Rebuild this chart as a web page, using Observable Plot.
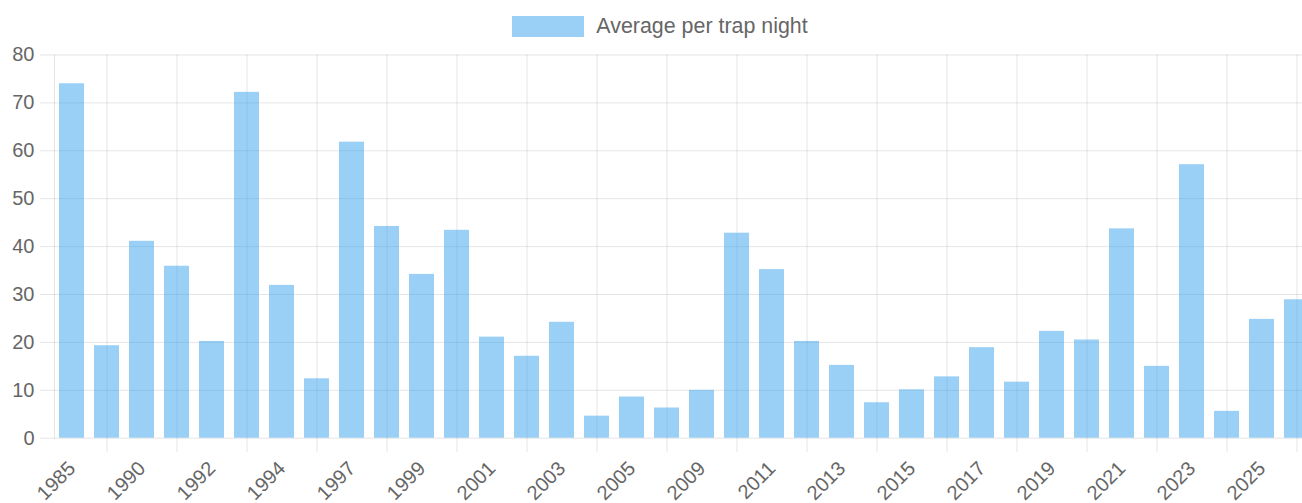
<!DOCTYPE html>
<html>
<head>
<meta charset="utf-8">
<script src="https://cdn.jsdelivr.net/npm/d3@7"></script>
<script src="https://cdn.jsdelivr.net/npm/@observablehq/plot@0.6"></script>
<style>
  html, body { margin: 0; padding: 0; background: #fff; overflow: hidden; width: 1302px; height: 503px; }
  #wrap { width: 1320px; font-family: "Liberation Sans", Arial, Helvetica, sans-serif; }
  #legend { height: 37px; box-sizing: border-box; padding-top: 16px; display: flex; justify-content: center; align-items: flex-start; }
  #legend .swatch { width: 72px; height: 21px; background: rgba(54,162,235,0.5); }
  #legend .label { margin-left: 12px; font-size: 21.4px; line-height: 21px; color: #666; }
  #chart svg { display: block; }
</style>
</head>
<body>
<div id="wrap">
  <div id="legend"><div class="swatch"></div><div class="label" id="legendLabel"></div></div>
  <div id="chart"></div>
</div>
<script>
const seriesName = "Average per trap night";
const years = [
  "1985","1989","1990","1991","1992","1993","1994","1996","1997","1998",
  "1999","2000","2001","2002","2003","2004","2005","2006","2009","2010",
  "2011","2012","2013","2014","2015","2016","2017","2018","2019","2020",
  "2021","2022","2023","2024","2025","2026"
];
const values = [
  74.0, 19.3, 41.1, 35.9, 20.2, 72.2, 31.9, 12.4, 61.8, 44.2,
  34.2, 43.4, 21.1, 17.1, 24.2, 4.6, 8.6, 6.3, 10.0, 42.8,
  35.2, 20.2, 15.2, 7.4, 10.1, 12.8, 18.9, 11.7, 22.3, 20.5,
  43.7, 15.0, 57.1, 5.6, 24.8, 28.9
];
const yTicks = [0, 10, 20, 30, 40, 50, 60, 70, 80];
const labeledYears = years.filter((d, i) => i % 2 === 0);
const gridYears = years.filter((d, i) => i % 2 === 1);

document.getElementById("legendLabel").textContent = seriesName;

const data = years.map((year, i) => ({year, value: values[i]}));

const chart = Plot.plot({
  width: 1320,
  height: 466,
  marginLeft: 54,
  marginRight: 6,
  marginTop: 17.5,
  marginBottom: 65.3,
  style: {fontFamily: "'Liberation Sans', Arial, Helvetica, sans-serif", fontSize: "20px", color: "#666", background: "transparent"},
  x: {type: "band", domain: years, paddingInner: 0.28, paddingOuter: 0.14, align: 0.5, axis: null},
  y: {domain: [0, 80], axis: null},
  marks: [
    Plot.gridY(yTicks, {stroke: "#000", strokeOpacity: 0.1}),
    Plot.gridX(gridYears, {stroke: "#000", strokeOpacity: 0.1}),
    Plot.axisX(gridYears, {tickSize: 14, tickFormat: () => "", stroke: "#000", strokeOpacity: 0.1, label: null}),
    Plot.axisY(yTicks, {tickSize: 14, tickPadding: 6, stroke: "#000", strokeOpacity: 0.1, fill: "#666", label: null, fontSize: 20}),
    Plot.frame({anchor: "left", stroke: "#000", strokeOpacity: 0.1}),
    Plot.barY(data, {x: "year", y: "value", fill: "rgba(54,162,235,0.5)"}),
    Plot.text(labeledYears, {x: d => d, frameAnchor: "bottom", dy: 27, rotate: -45, textAnchor: "end", lineAnchor: "middle", fill: "#666", fontSize: 20})
  ]
});
document.getElementById("chart").appendChild(chart);
</script>
</body>
</html>
